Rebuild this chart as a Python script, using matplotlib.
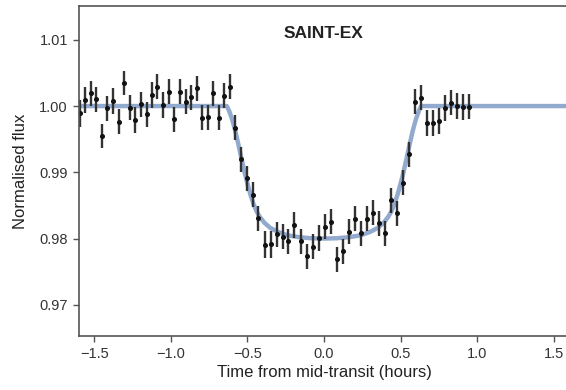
"""
SAINT-EX transit light curve, binned points with the fitted model.
"""
import matplotlib
matplotlib.use("Agg")
import matplotlib.pyplot as plt

# binned photometry (hours from mid-transit, normalised flux, 1-sigma error)
time_h = [-1.595, -1.560, -1.523, -1.486, -1.451, -1.414, -1.377, -1.342, -1.305, -1.268,
          -1.233, -1.196, -1.159, -1.124, -1.088, -1.050, -1.013, -0.978, -0.941, -0.904,
          -0.869, -0.832, -0.795, -0.760, -0.724, -0.686, -0.652, -0.614, -0.578, -0.542,
          -0.505, -0.466, -0.428, -0.386, -0.348, -0.309, -0.270, -0.232, -0.193, -0.150,
          -0.111, -0.074, -0.033, 0.007, 0.046, 0.085, 0.122, 0.163, 0.203, 0.242,
          0.281, 0.320, 0.359, 0.399, 0.438, 0.477, 0.516, 0.556, 0.595, 0.634,
          0.673, 0.712, 0.752, 0.791, 0.830, 0.869, 0.908, 0.948]
flux = [0.99890, 1.00091, 1.00192, 1.00101, 0.99547, 0.99965, 1.00075, 0.99763, 1.00343, 0.99974,
        0.99789, 1.00026, 0.99875, 1.00166, 1.00291, 1.00015, 1.00216, 0.99799, 1.00216, 1.00065,
        1.00131, 1.00267, 0.99823, 0.99829, 1.00192, 0.99823, 1.00155, 1.00291, 0.99672, 0.99195,
        0.98909, 0.98663, 0.98305, 0.97909, 0.97912, 0.98063, 0.98027, 0.97958, 0.98204, 0.97958,
        0.97731, 0.97876, 0.98008, 0.98178, 0.98254, 0.97686, 0.97807, 0.98103, 0.98299, 0.98079,
        0.98299, 0.98389, 0.98229, 0.98079, 0.98581, 0.98380, 0.98842, 0.99271, 1.00068, 1.00128,
        0.99743, 0.99743, 0.99774, 0.99970, 1.00050, 1.00000, 0.99985, 0.99989]
flux_err = [0.0020, 0.0019, 0.0019, 0.0019, 0.0018, 0.0019, 0.0019, 0.0019, 0.0018, 0.0019,
            0.0019, 0.0019, 0.0019, 0.0019, 0.0019, 0.0019, 0.0019, 0.0019, 0.0019, 0.0019,
            0.0019, 0.0019, 0.0019, 0.0019, 0.0019, 0.0019, 0.0019, 0.0019, 0.0019, 0.0019,
            0.0019, 0.0019, 0.0019, 0.0020, 0.0020, 0.0019, 0.0019, 0.0019, 0.0019, 0.0019,
            0.0019, 0.0019, 0.0019, 0.0019, 0.0019, 0.0019, 0.0019, 0.0019, 0.0019, 0.0019,
            0.0019, 0.0019, 0.0019, 0.0019, 0.0019, 0.0019, 0.0019, 0.0019, 0.0019, 0.0019,
            0.0019, 0.0019, 0.0019, 0.0019, 0.0019, 0.0019, 0.0019, 0.0019]

# best-fit transit model
model_t = [-1.60, -0.635, -0.62, -0.60, -0.58, -0.56, -0.54, -0.52, -0.50, -0.48,
           -0.46, -0.44, -0.42, -0.39, -0.35, -0.30, -0.24, -0.16, -0.08, 0.00,
           0.08, 0.16, 0.24, 0.30, 0.35, 0.39, 0.42, 0.44, 0.46, 0.48,
           0.50, 0.52, 0.54, 0.56, 0.58, 0.60, 0.62, 0.635, 1.60]
model_f = [1.0000, 1.0000, 0.9993, 0.9980, 0.9963, 0.9943, 0.9922, 0.9901, 0.9883, 0.9866,
           0.9852, 0.9841, 0.9833, 0.9824, 0.9816, 0.9810, 0.9805, 0.9802, 0.98005, 0.9800,
           0.98005, 0.9802, 0.9805, 0.9810, 0.9816, 0.9824, 0.9833, 0.9841, 0.9852, 0.9866,
           0.9883, 0.9901, 0.9922, 0.9943, 0.9963, 0.9980, 0.9993, 1.0000, 1.0000]

yticks = [0.97, 0.98, 0.99, 1.00, 1.01]
xticks = [-1.5, -1.0, -0.5, 0.0, 0.5, 1.0, 1.5]

plt.rcParams['font.family'] = ['Liberation Sans', 'DejaVu Sans']

fig = plt.figure(figsize=(5.66, 3.90), dpi=100)
ax = fig.add_axes([79 / 566, 54 / 390, 490 / 566, 330 / 390])

ax.plot(model_t, model_f, color="#4c72b0", alpha=0.6, lw=3.2, zorder=1,
        solid_joinstyle="round")
ax.errorbar(time_h, flux, yerr=flux_err, fmt="o", ms=2.6, color="#111111",
            ecolor="#333333", elinewidth=1.7, capsize=0, zorder=2)

ax.set_xlim(-1.6, 1.6)
ax.set_ylim(0.9653, 1.0151)
ax.set_xticks(xticks)
ax.set_yticks(yticks)
ax.set_yticklabels(["%.2f" % v for v in yticks])

for side in ["left", "bottom", "top"]:
    ax.spines[side].set_color("#555555")
    ax.spines[side].set_linewidth(1.2)
ax.spines["right"].set_visible(False)
ax.tick_params(axis="both", direction="out", length=4.5, width=1.0,
               color="#555555", labelsize=10.5, labelcolor="#333333")
ax.tick_params(top=False, right=False)

ax.set_xlabel("Time from mid-transit (hours)", fontsize=12, color="#222222", labelpad=3)
ax.set_ylabel("Normalised flux", fontsize=12, color="#222222", labelpad=8)

ax.text(0.5, 0.918, "SAINT-EX", transform=ax.transAxes, ha="center", va="center",
        fontsize=12.5, fontweight="bold", color="#222222")

fig.savefig("out.png", dpi=100)
